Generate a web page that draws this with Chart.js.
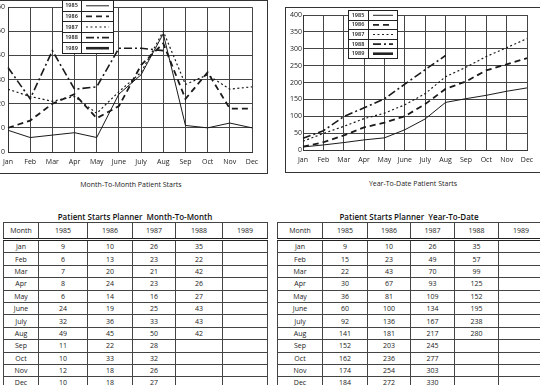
<!DOCTYPE html>
<html>
<head>
<meta charset="utf-8">
<script src="https://cdn.jsdelivr.net/npm/chart.js@4.4.1/dist/chart.umd.min.js"></script>
<style>
  body { margin: 0; width: 540px; height: 385px; overflow: hidden; background: #fff; position: relative; font-family: "Open Sans", sans-serif; color: #222; }
  .frame { position: absolute; border: 1px solid #333; box-sizing: border-box; }
  canvas { position: absolute; }
  .cap { position: absolute; font-size: 7px; text-align: center; color: #222; }
  .ttl { position: absolute; font-size: 8px; font-weight: 600; text-align: center; color: #111; }
  table { position: absolute; border-collapse: collapse; table-layout: fixed; font-size: 7px; line-height: 9px; }
  td, th { border: 1px solid #444; text-align: center; padding: 0; height: 11.4px; font-weight: 400; overflow: hidden; white-space: nowrap; color: #222; }
  th { height: 15px; border-bottom: 3px double #222; }
  table { border: 1.5px solid #222; }
</style>
</head>
<body>
<div class="frame" style="left:-1px; top:0; width:269px; height:174px;"></div>
<canvas id="monthChart" width="287" height="173" style="left:-20px; top:0;"></canvas>
<div class="cap" style="left:0; top:180px; width:262px;">Month-To-Month Patient Starts</div>

<div class="frame" style="left:285px; top:7px; width:260px; height:166px;"></div>
<canvas id="ytdChart" width="254" height="164" style="left:286px; top:8px;"></canvas>
<div class="cap" style="left:285px; top:179px; width:256px;">Year-To-Date Patient Starts</div>

<div class="ttl" style="left:3px; top:211px; width:264px;">Patient Starts Planner &nbsp;Month-To-Month</div>
<table id="monthTable" style="left:3px; top:222px; width:264px;"></table>
<div class="ttl" style="left:277px; top:211px; width:264px;">Patient Starts Planner &nbsp;Year-To-Date</div>
<table id="ytdTable" style="left:277px; top:222px; width:266px;"></table>

<script>
// meses
const months = ['Jan','Feb','Mar','Apr','May','June','July','Aug','Sep','Oct','Nov','Dec'];
const years = ['1985','1986','1987','1988','1989'];

// month to month
const m1985 = [9,6,7,8,6,24,32,49,11,10,12,10];
const m1986 = [10,13,20,24,14,19,36,45,22,33,18,18];
const m1987 = [26,23,21,23,16,25,33,50,28,32,26,27];
const m1988 = [35,22,42,26,27,43,43,42,null,null,null,null];
const m1989 = [null,null,null,null,null,null,null,null,null,null,null,null];

// year to date
const y1985 = [9,15,22,30,36,60,92,141,152,162,174,184];
const y1986 = [10,23,43,67,81,100,136,181,203,236,254,272];
const y1987 = [26,49,70,93,109,134,167,217,245,277,303,330];
const y1988 = [35,57,99,125,152,195,238,280,null,null,null,null];
const y1989 = [null,null,null,null,null,null,null,null,null,null,null,null];

const monthTicks = [0,10,20,30,40,50,60];
const ytdTicks = [0,50,100,150,200,250,300,350,400];

// estilos de linea por año
const styles = [
  { borderWidth: 1, borderDash: [] },
  { borderWidth: 1.8, borderDash: [6,4] },
  { borderWidth: 1.2, borderDash: [2,2.5] },
  { borderWidth: 1.6, borderDash: [8,3,2,3] },
  { borderWidth: 2.6, borderDash: [] }
];

function makeSets(series) {
  return series.map((d, i) => ({
    label: years[i],
    data: d,
    borderColor: '#1a1a1a',
    borderWidth: styles[i].borderWidth,
    borderDash: styles[i].borderDash,
    pointRadius: 0,
    tension: 0,
    fill: false,
    spanGaps: false
  }));
}

// leyenda en caja, dentro del grafico
const boxLegend = {
  id: 'boxLegend',
  afterDraw(chart, args, o) {
    const ctx = chart.ctx;
    const sets = chart.data.datasets;
    const rowH = o.h / sets.length;
    ctx.save();
    ctx.fillStyle = '#fff';
    ctx.fillRect(o.x, o.y, o.w, o.h);
    ctx.strokeStyle = '#222';
    ctx.lineWidth = 1;
    ctx.setLineDash([]);
    ctx.strokeRect(o.x + 0.5, o.y + 0.5, o.w, o.h);
    ctx.beginPath();
    ctx.moveTo(o.x + o.split + 0.5, o.y);
    ctx.lineTo(o.x + o.split + 0.5, o.y + o.h);
    for (let i = 1; i < sets.length; i++) {
      const ry = Math.round(o.y + i * rowH) + 0.5;
      ctx.moveTo(o.x, ry);
      ctx.lineTo(o.x + o.w, ry);
    }
    ctx.stroke();
    ctx.font = '600 5.5px "Open Sans"';
    ctx.fillStyle = '#111';
    ctx.textAlign = 'center';
    ctx.textBaseline = 'middle';
    sets.forEach((ds, i) => {
      const cy = o.y + i * rowH + rowH / 2 + 0.5;
      ctx.fillText(ds.label, o.x + o.split / 2, cy);
      ctx.beginPath();
      ctx.lineWidth = ds.borderWidth;
      ctx.setLineDash(ds.borderDash);
      ctx.moveTo(o.x + o.split + 5, cy);
      ctx.lineTo(o.x + o.w - 4, cy);
      ctx.stroke();
    });
    ctx.restore();
  }
};

function lineChart(id, sets, ticks, yWidth, xHeight, pad, yPad, legend) {
  new Chart(document.getElementById(id), {
    type: 'line',
    data: { labels: months, datasets: sets },
    plugins: [boxLegend],
    options: {
      responsive: false,
      animation: false,
      devicePixelRatio: 1,
      layout: { padding: pad },
      plugins: {
        legend: { display: false },
        tooltip: { enabled: false },
        boxLegend: legend
      },
      scales: {
        x: {
          offset: false,
          grid: { color: '#444', lineWidth: 1, drawTicks: false },
          border: { color: '#333' },
          ticks: { color: '#222', padding: 6, maxRotation: 0, autoSkip: false, font: { family: 'Open Sans', size: 7 } },
          afterFit: s => { s.height = xHeight; }
        },
        y: {
          min: ticks[0],
          max: ticks[ticks.length - 1],
          afterBuildTicks: s => { s.ticks = ticks.map(v => ({ value: v })); },
          grid: { color: '#444', lineWidth: 1, drawTicks: false },
          border: { color: '#333' },
          ticks: { color: '#222', padding: yPad, font: { family: 'Open Sans', size: 7 } },
          afterFit: s => { s.width = yWidth; }
        }
      }
    }
  });
}

lineChart('monthChart', makeSets([m1985, m1986, m1987, m1988, m1989]), monthTicks,
  28, 21, { top: 7, right: 15, bottom: 0, left: 0 }, 3,
  { x: 82, y: 0, w: 51, h: 53, split: 19 });

lineChart('ytdChart', makeSets([y1985, y1986, y1987, y1988, y1989]), ytdTicks,
  17, 22, { top: 7, right: 13, bottom: 0, left: 0 }, 1,
  { x: 62, y: 2, w: 49, h: 48, split: 20 });

// tablas
function fillTable(id, series) {
  const t = document.getElementById(id);
  const widths = id === 'monthTable' ? [35,49,45,43,47,45] : [45,45,43,44,44,45];
  let html = '<colgroup>' + widths.map(w => '<col style="width:' + w + 'px">').join('') + '</colgroup>';
  html += '<tr><th>Month</th>' + years.map(y => '<th>' + y + '</th>').join('') + '</tr>';
  months.forEach((m, i) => {
    html += '<tr><td>' + m + '</td>' + series.map(s => '<td>' + (s[i] == null ? '' : s[i]) + '</td>').join('') + '</tr>';
  });
  t.innerHTML = html;
}
fillTable('monthTable', [m1985, m1986, m1987, m1988, m1989]);
fillTable('ytdTable', [y1985, y1986, y1987, y1988, y1989]);
</script>
</body>
</html>
